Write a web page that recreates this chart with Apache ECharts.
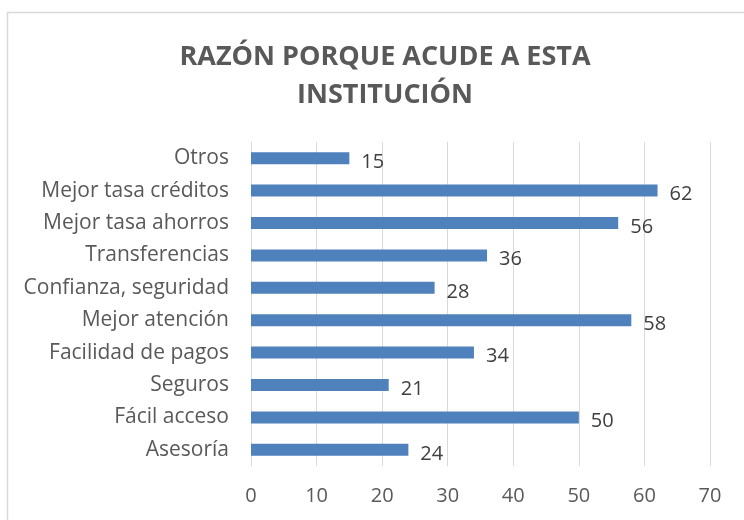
<!DOCTYPE html>
<html>
<head>
<meta charset="utf-8">
<script src="https://cdn.jsdelivr.net/npm/echarts@6/dist/echarts.min.js"></script>
<style>
  html, body { margin: 0; padding: 0; background: #fff; }
  #chart { width: 744px; height: 520px; }
</style>
</head>
<body>
<div id="chart"></div>
<script>
// categories bottom to top, as the axis draws them
const categories = ['Asesoría', 'Fácil acceso', 'Seguros', 'Facilidad de pagos', 'Mejor atención',
  'Confianza, seguridad', 'Transferencias', 'Mejor tasa ahorros', 'Mejor tasa créditos', 'Otros'];
const values = [24, 50, 21, 34, 58, 28, 36, 56, 62, 15];
const titleText = 'RAZÓN PORQUE ACUDE A ESTA\nINSTITUCIÓN';

const chart = echarts.init(document.getElementById('chart'), null, { renderer: 'canvas' });

const labelFont = 'Open Sans';

const option = {
  backgroundColor: '#ffffff',
  animation: false,
  title: {
    text: titleText,
    left: 380,
    textAlign: 'center',
    top: 33,
    textStyle: {
      fontFamily: 'Open Sans',
      fontWeight: 'bold',
      fontSize: 27,
      lineHeight: 38,
      color: '#595959'
    }
  },
  graphic: [{
    type: 'rect',
    shape: { x: 7.5, y: 12.5, width: 800, height: 600 },
    style: { fill: 'none', stroke: '#d9d9d9', lineWidth: 1.5 },
    silent: true
  }],
  grid: { left: 251, right: 34, top: 142, bottom: 54, containLabel: false },
  xAxis: {
    type: 'value',
    min: 0,
    max: 70,
    interval: 10,
    axisLine: { show: false },
    axisTick: { show: false },
    splitLine: { lineStyle: { color: '#d9d9d9', width: 1 } },
    axisLabel: {
      margin: 20,
      fontFamily: labelFont,
      fontSize: 20,
      color: '#595959'
    }
  },
  yAxis: {
    type: 'category',
    data: categories,
    axisLine: { lineStyle: { color: '#d9d9d9' } },
    axisTick: { show: false },
    axisLabel: {
      margin: 22,
      fontFamily: labelFont,
      fontSize: 21,
      color: '#595959'
    }
  },
  series: [{
    type: 'bar',
    data: values,
    barWidth: '37%',
    itemStyle: { color: '#4f81bd' },
    label: {
      show: true,
      position: 'right',
      distance: 12,
      fontFamily: labelFont,
      fontSize: 20,
      color: '#404040',
      offset: [0, 4]
    }
  }]
};

chart.setOption(option);
</script>
</body>
</html>
